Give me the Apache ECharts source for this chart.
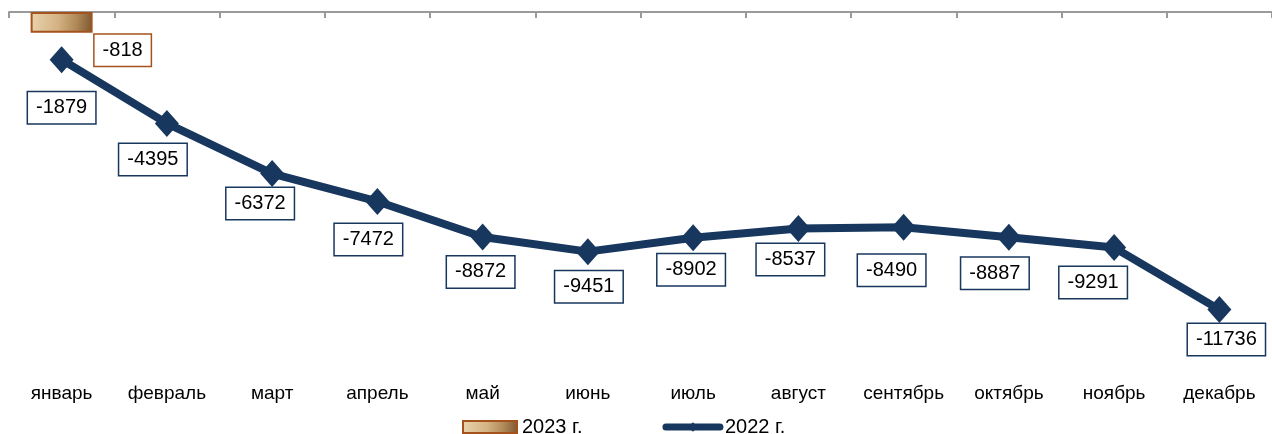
<!DOCTYPE html>
<html>
<head>
<meta charset="utf-8">
<script src="https://cdn.jsdelivr.net/npm/echarts@6/dist/echarts.min.js"></script>
<style>
  html, body { margin: 0; padding: 0; background: #fff; }
  #chart { width: 1272px; height: 434px; }
</style>
</head>
<body>
<div id="chart"></div>
<script>
const months = ['январь', 'февраль', 'март', 'апрель', 'май', 'июнь', 'июль', 'август', 'сентябрь', 'октябрь', 'ноябрь', 'декабрь']
const values2023 = [-818]
const values2022 = [-1879, -4395, -6372, -7472, -8872, -9451, -8902, -8537, -8490, -8887, -9291, -11736]
// сдвиг подписей относительно точки
const labelShift = [[0, 48], [-14, 36], [-12, 30], [-9, 38], [-2, 35], [1, 35], [-2, 32], [-8, 31], [-12, 43], [-14, 36], [-21, 35], [7, 30]]

const navy = '#17375e'
const font = 'Liberation Sans, Arial, sans-serif'

const boxLabel = {
  show: true,
  color: '#000',
  fontSize: 20,
  fontFamily: font,
  backgroundColor: '#fff',
  borderWidth: 1.5,
  padding: [6, 8, 5, 8]
}

const barFill = new echarts.graphic.LinearGradient(0, 0, 1, 0.3, [
  { offset: 0, color: '#ead4ae' },
  { offset: 0.45, color: '#d4b384' },
  { offset: 0.75, color: '#b08858' },
  { offset: 1, color: '#7e5a32' }
])

const options = {
  animation: false,
  grid: { left: 9, top: 12, width: 1271, height: 355 },
  legend: {
    left: 457,
    top: 412,
    itemWidth: 54,
    itemHeight: 12,
    itemGap: 80,
    textStyle: { color: '#000', fontSize: 20, fontFamily: font, lineHeight: 20 },
    data: [
      { name: '2023 г.', icon: 'rect' },
      { name: '2022 г.', lineStyle: { width: 7, cap: 'round' }, itemStyle: { color: navy } }
    ]
  },
  xAxis: [
    {
      type: 'category',
      position: 'top',
      data: months,
      axisLine: { show: true, lineStyle: { color: '#9a9a9a', width: 2 } },
      axisTick: { show: true, inside: true, length: 6, interval: 0, lineStyle: { color: '#9a9a9a', width: 2 } },
      axisLabel: { show: false, interval: 0 }
    },
    {
      type: 'category',
      position: 'bottom',
      data: months,
      axisLine: { show: false },
      axisTick: { show: false },
      axisLabel: { color: '#000', fontSize: 19, fontFamily: font, margin: 17, interval: 0 }
    }
  ],
  yAxis: {
    type: 'value',
    min: -14000,
    max: 0,
    show: false,
    splitLine: { show: false }
  },
  series: [
    {
      name: '2023 г.',
      type: 'bar',
      barWidth: 62,
      data: values2023,
      itemStyle: {
        color: barFill,
        borderColor: '#a5521c',
        borderWidth: 2
      },
      label: {
        ...boxLabel,
        position: 'bottom',
        distance: 2,
        offset: [61, 0],
        borderColor: '#a5521c'
      }
    },
    {
      name: '2022 г.',
      type: 'line',
      data: values2022.map((v, i) => ({
        value: v,
        label: { offset: labelShift[i] }
      })),
      symbol: 'diamond',
      symbolSize: [24, 27],
      lineStyle: { color: navy, width: 8 },
      itemStyle: { color: navy },
      label: {
        ...boxLabel,
        position: 'inside',
        borderColor: navy
      },
      z: 3
    }
  ]
}

const chart = echarts.init(document.getElementById('chart'))
chart.setOption(options)
window.addEventListener('resize', function () {
  chart && chart.resize()
})
</script>
</body>
</html>
